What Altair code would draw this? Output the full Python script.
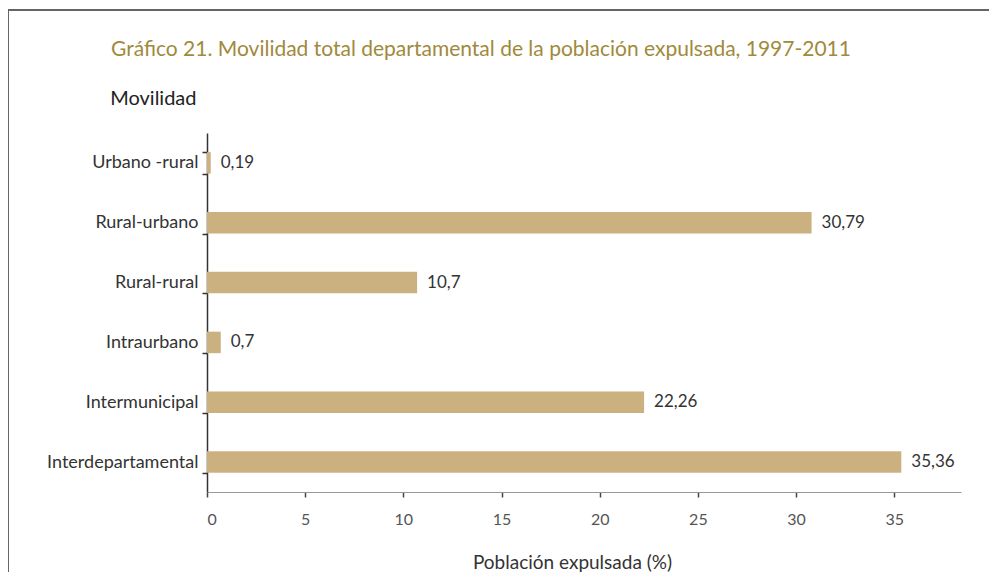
import altair as alt
import pandas as pd

categories = ["Urbano -rural", "Rural-urbano", "Rural-rural", "Intraurbano",
              "Intermunicipal", "Interdepartamental"]
values = [0.19, 30.79, 10.7, 0.7, 22.26, 35.36]
labels = [str(v).replace(".", ",") for v in values]
x_ticks = [0, 5, 10, 15, 20, 25, 30, 35]

df = pd.DataFrame({"cat": categories, "val": values, "lab": labels})

FONT = "Lato"
BAR = "#cbb080"

y_enc = alt.Y(
    "cat:N", sort=categories,
    scale=alt.Scale(paddingInner=0.64, paddingOuter=0.32),
    axis=alt.Axis(
        title="Movilidad", titleAngle=0, titleAlign="right", titleBaseline="middle",
        titleX=-11, titleY=-35, titleFont=FONT, titleFontSize=20,
        titleFontWeight="normal", titleColor="#222",
        labelFont=FONT, labelFontSize=18, labelColor="#333", labelPadding=4,
        tickBand="extent", tickSize=5, tickColor="#333", tickWidth=1.5,
        domainColor="#333", domainWidth=1.5,
    ),
)
x_enc = alt.X(
    "val:Q",
    scale=alt.Scale(domain=[0, 38.4], nice=False, zero=True),
    axis=alt.Axis(
        title="Población expulsada (%)", values=x_ticks,
        titleFont=FONT, titleFontSize=19, titleFontWeight="normal", titleColor="#333",
        titleX=365, titleY=70, titleBaseline="middle", titleAlign="center",
        labelFont=FONT, labelFontSize=16, labelColor="#555", labelPadding=14,
        tickSize=5, tickColor="#444", tickWidth=1.5,
        domainColor="#999", domainWidth=1,
        grid=False,
    ),
)

bars = alt.Chart(df).mark_bar(color=BAR).encode(y=y_enc, x=x_enc)
text = alt.Chart(df).mark_text(
    align="left", baseline="middle", dx=10, font=FONT, fontSize=17, color="#333"
).encode(y=alt.Y("cat:N", sort=categories), x="val:Q", text="lab:N")

frame_top = alt.Chart(df).mark_rule(color="#666", strokeWidth=1.5, clip=False).encode(
    x=alt.value(-199), x2=alt.value(782), y=alt.value(-123)
)
frame_left = alt.Chart(df).mark_rule(color="#666", strokeWidth=1.5, clip=False).encode(
    x=alt.value(-199), y=alt.value(-123), y2=alt.value(440)
)

chart = alt.layer(bars, text, frame_top, frame_left).properties(
    width=754, height=359,
    autosize=alt.AutoSizeParams(type="none"),
    padding={"left": 199, "top": 125, "right": 28, "bottom": 80},
    title=alt.TitleParams(
        "Gráfico 21. Movilidad total departamental de la población expulsada, 1997-2011",
        anchor="start", frame="group", dx=-96, dy=68, offset=0, font=FONT, fontSize=21,
        fontWeight="normal", color="#a08a3c", baseline="alphabetic",
    ),
).configure_view(stroke=None)

chart.save("out.html", embed_options={"renderer": "svg", "actions": False})
